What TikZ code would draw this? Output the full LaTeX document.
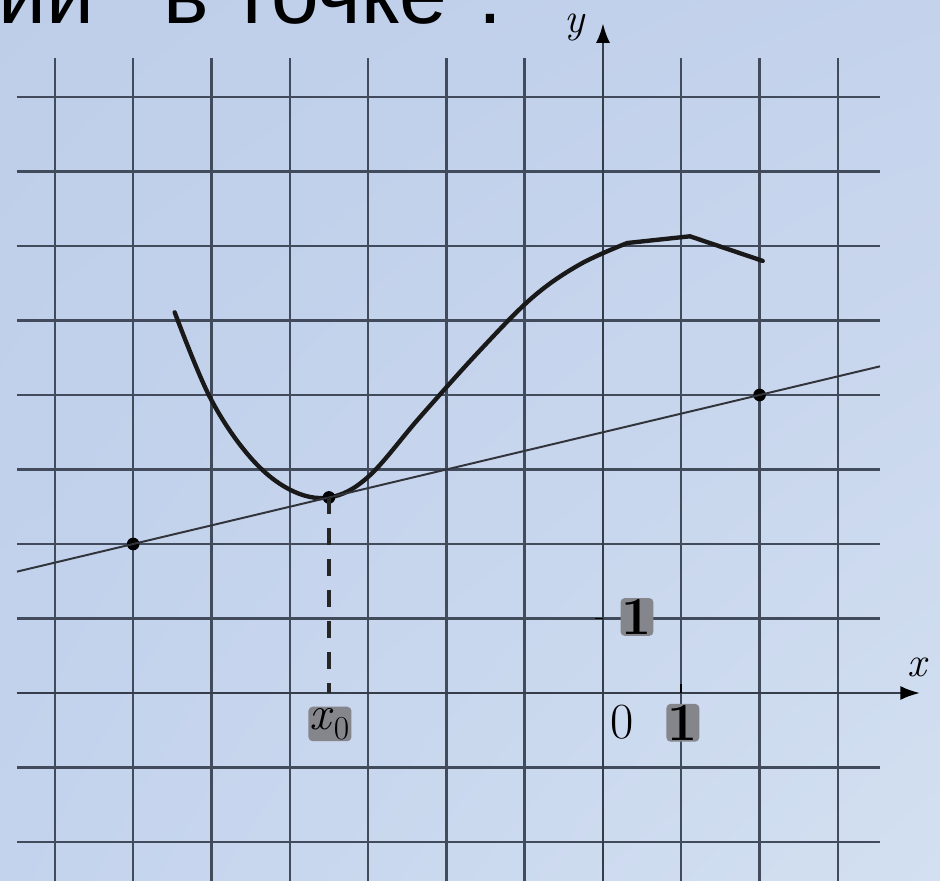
\documentclass[tikz,border=0pt]{standalone}
\usepackage{fontspec}
\newfontfamily\titlefont{Liberation Sans}
\usetikzlibrary{arrows.meta, calc, shadings}

\definecolor{bgtl}{RGB}{190,206,233}
\definecolor{bgtr}{RGB}{196,210,236}
\definecolor{bgbl}{RGB}{196,211,237}
\definecolor{bgbr}{RGB}{211,224,241}
\definecolor{gridcol}{RGB}{66,75,92}
\definecolor{tangcol}{RGB}{50,52,60}
\definecolor{halocol}{RGB}{132,134,140}

\begin{document}
\begin{tikzpicture}[x=1.9575cm, y=1.8625cm,
    gridline/.style={line width=1.7pt, color=gridcol},
    axisline/.style={line width=1.9pt, color=gridcol!80!black, -{Latex[length=14pt,width=10pt,color=black]}},
    curveline/.style={line width=3.1pt, color=black!90, line join=round, line cap=round},
    dropline/.style={line width=2.8pt, color=black!85, dash pattern=on 12pt off 10pt},
    dotmark/.style={circle, fill=black, inner sep=0pt, minimum size=9pt},
    halo/.style={fill=halocol, rounded corners=3pt, inner sep=1pt}]
  \useasboundingbox (-7.701,-2.523) rectangle (4.304,9.302);
  \shade[upper left=bgtl, upper right=bgtr, lower left=bgbl, lower right=bgbr]
    (-7.701,-2.523) rectangle (4.304,9.302);

  % title, cut at the top
  \begin{scope}[font=\titlefont\fontsize{61}{66}\selectfont]
    \node[anchor=base east, inner sep=0pt] (ttla) at (-6.488,8.98) {ции};
    \node[anchor=base west, inner sep=0pt] (ttlb) at (-5.619,8.98) {в точке};
    \node[anchor=base, inner sep=0pt] (ttlc) at (-1.443,8.98) {.};
  \end{scope}

  % grid
  \foreach \i in {-7,...,3}
    \draw[gridline] (\i,-2.6) -- (\i,8.52);
  \foreach \j in {-2,...,8}
    \draw[gridline] (-7.484,\j) -- (3.538,\j);

  % axes
  \coordinate (o) at (0,0);
  \draw[axisline] (0,-2.6) -- (0,8.99);
  \draw[axisline] (-7.484,0) -- (4.05,0);
  \draw[line width=1.2pt] (-0.1,1) -- (0,1);
  \draw[line width=1.2pt] (1,0) -- (1,0.12);

  % graph of the function
  \draw[curveline] plot[smooth, tension=0.6] coordinates {(-5.47,5.11) (-5.02,3.97)
      (-4.51,3.17) (-4.0,2.73) (-3.5,2.625) (-3.0,2.9) (-2.34,3.7) (-1.57,4.6)
      (-0.9,5.31) (-0.3,5.75) (0.31,6.04)} -- (1.11,6.13) -- (2.04,5.8);

  % tangent
  \node[dotmark] (pa) at (-6,2) {};
  \node[dotmark] (pb) at (2,4) {};
  \node[dotmark] (pt) at (-3.5,2.625) {};
  \draw[line width=1.4pt, color=tangcol] ($(pa.center)!-0.1855!(pb.center)$) -- ($(pb.center)!-0.19225!(pa.center)$);
  \draw[dropline] (pt.center) -- (pt.center |- o);

  % labels
  \node[halo, font=\bfseries\fontsize{38}{40}\selectfont] (lbly) at (0.434,1.02) {1};
  \node[font=\fontsize{36}{40}\selectfont] (lblo) at (0.243,-0.39) {0};
  \node[halo, font=\bfseries\fontsize{38}{40}\selectfont] (lblx) at (1.02,-0.40) {1};
  \node[halo, font=\fontsize{34}{40}\selectfont] (lblxo) at (-3.487,-0.416) {\textit{x}\textsubscript{0}};
  \node[inner sep=0pt, font=\fontsize{30}{36}\selectfont] (xname) at (4.03,0.35) {\textit{x}};
  \node[inner sep=0pt, font=\fontsize{30}{36}\selectfont] (yname) at (-0.358,8.93) {\textit{y}};
\end{tikzpicture}
\end{document}
